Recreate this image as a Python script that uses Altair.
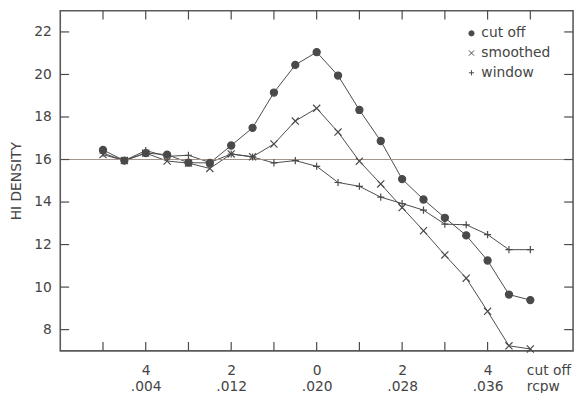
import altair as alt
import pandas as pd

# ---- data ----
idx = list(range(21))
cut_off = [16.45, 15.95, 16.30, 16.23, 15.85, 15.84, 16.66, 17.49, 19.15, 20.45, 21.05,
           19.95, 18.33, 16.87, 15.08, 14.12, 13.26, 12.43, 11.25, 9.65, 9.39]
smoothed = [16.23, 15.95, 16.30, 15.93, 15.83, 15.58, 16.26, 16.13, 16.73, 17.81, 18.41,
            17.29, 15.92, 14.85, 13.74, 12.65, 11.51, 10.42, 8.86, 7.24, 7.09]
window = [16.30, 15.95, 16.42, 16.15, 16.20, 15.86, 16.26, 16.12, 15.84, 15.95, 15.68,
          14.92, 14.74, 14.23, 13.93, 13.62, 12.96, 12.93, 12.47, 11.76, 11.76]
series_names = ["cut off", "smoothed", "window"]

ref_level = [16]
y_ticks = [8, 10, 12, 14, 16, 18, 20, 22]
x_ticks_bottom = [0, 2, 4, 6, 8, 10, 12, 14, 16, 18]
x_ticks_top = [0, 2, 4, 6, 8, 10, 12, 14, 16, 18, 20]
x_label_pos = [2, 6, 10, 14, 18, 20]
x_label_top = ["4", "2", "0", "2", "4", "cut off"]
x_label_bottom = [".004", ".012", ".020", ".028", ".036", "rcpw"]

rows = []
for name, vals in zip(series_names, [cut_off, smoothed, window]):
    for i, v in zip(idx, vals):
        rows.append({"i": i, "value": v, "series": name})
df = pd.DataFrame(rows)

W, H = 520, 345
INK = "#4a4a4a"
TXT = "#454545"
FONT = "DejaVu Sans"
TL = 9

xs = alt.Scale(domain=[-2, 22], nice=False, zero=False)
ys = alt.Scale(domain=[7, 23], nice=False, zero=False)

parts = []
for p, t, b in zip(x_label_pos, x_label_top, x_label_bottom):
    parts.append(f"datum.value == {p} ? '{t}|{b}'")
label_expr = "split(" + " : ".join(parts) + " : '', '|')"
last = x_label_pos[-1]

x_axis = alt.Axis(values=x_label_pos, labelExpr=label_expr, ticks=False,
                  domain=False, grid=False, labelPadding=13,
                  labelFont=FONT, labelFontSize=14, labelColor=TXT,
                  labelLineHeight=16, labelBaseline="top", title=None,
                  labelAlign={"condition": {"test": f"datum.value == {last}", "value": "left"},
                              "value": "center"},
                  labelOffset={"condition": {"test": f"datum.value == {last}", "value": -4},
                               "value": 0})
y_axis = alt.Axis(values=y_ticks, ticks=False, domain=False, grid=False,
                  labelPadding=9, labelFont=FONT, labelFontSize=14, labelColor=TXT,
                  title="HI DENSITY", titleFont=FONT, titleFontSize=14,
                  titleFontWeight="normal", titleColor=TXT, titlePadding=10)

ref = alt.Chart(pd.DataFrame({"y": ref_level})).mark_rule(
    color="#a4948c", strokeWidth=1.2
).encode(y=alt.Y("y:Q", scale=ys, axis=y_axis))

lines = alt.Chart(df).mark_line(color=INK, strokeWidth=1).encode(
    x=alt.X("i:Q", scale=xs, axis=x_axis),
    y=alt.Y("value:Q", scale=ys, axis=y_axis),
    detail="series:N",
)

x_path = "M-1,-1L1,1M-1,1L1,-1"
plus_path = "M-1,0L1,0M0,-1L0,1"
shape_scale = alt.Scale(domain=series_names, range=["circle", x_path, plus_path])
fill_scale = alt.Scale(domain=series_names, range=[INK, "transparent", "transparent"])
stroke_scale = alt.Scale(domain=series_names, range=[INK, INK, INK])
leg = dict(orient="none", legendX=410, legendY=16, title=None,
           labelFont=FONT, labelFontSize=14, labelColor=TXT,
           symbolStrokeWidth=1, symbolSize=28, rowPadding=6,
           padding=0, labelOffset=3)

points = alt.Chart(df).mark_point(strokeWidth=1.2, opacity=1, size=52).encode(
    x=alt.X("i:Q", scale=xs, axis=x_axis),
    y=alt.Y("value:Q", scale=ys, axis=y_axis),
    shape=alt.Shape("series:N", scale=shape_scale, legend=alt.Legend(**leg)),
    fill=alt.Fill("series:N", scale=fill_scale, legend=alt.Legend(**leg)),
    stroke=alt.Stroke("series:N", scale=stroke_scale, legend=alt.Legend(**leg)),
)

yt = pd.DataFrame({"y": y_ticks})
xb = pd.DataFrame({"x": x_ticks_bottom})
xt = pd.DataFrame({"x": x_ticks_top})

tick_l = alt.Chart(yt).mark_rule(color=INK, strokeWidth=1.2).encode(
    y=alt.Y("y:Q", scale=ys, axis=y_axis), x=alt.value(0), x2=alt.value(TL))
tick_r = alt.Chart(yt).mark_rule(color=INK, strokeWidth=1.2).encode(
    y=alt.Y("y:Q", scale=ys, axis=y_axis), x=alt.value(W - TL), x2=alt.value(W))
tick_b = alt.Chart(xb).mark_rule(color=INK, strokeWidth=1.2).encode(
    x=alt.X("x:Q", scale=xs, axis=x_axis), y=alt.value(H - TL), y2=alt.value(H))
tick_t = alt.Chart(xt).mark_rule(color=INK, strokeWidth=1.2).encode(
    x=alt.X("x:Q", scale=xs, axis=x_axis), y=alt.value(0), y2=alt.value(TL))

chart = alt.layer(lines, ref, points, tick_l, tick_r, tick_b, tick_t).properties(
    width=W, height=H,
    autosize=alt.AutoSizeParams(type="none"),
    padding={"left": 53, "top": 0, "right": 4, "bottom": 40},
    background="white",
).configure_view(stroke="#5a5a5a", strokeWidth=1.6)

chart.save("out.html", embed_options={"renderer": "svg", "actions": False})
